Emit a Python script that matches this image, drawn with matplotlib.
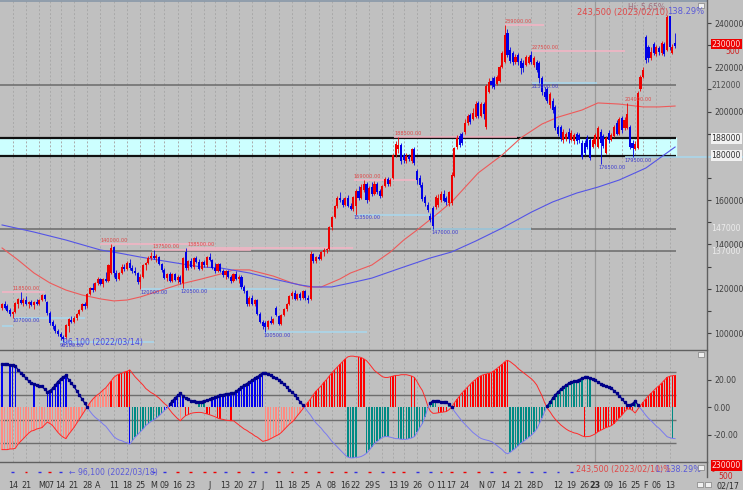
import matplotlib
matplotlib.use("Agg")
import matplotlib.pyplot as plt
import matplotlib.transforms as mtransforms
from matplotlib.patches import Rectangle
import numpy as np

# ---- daily candles, thousands of won (bar 4 = 2022/02/14, bar 250 = 2023/02/10) ----
opens = [
    111.5, 113.0, 112.0, 110.5, 108.5, 109.5, 113.0, 115.0, 113.5, 115.0,
    113.0, 114.0, 112.5, 114.0, 113.0, 115.0, 117.0, 114.0, 109.0, 105.0,
    103.0, 101.0, 99.5, 98.0, 98.0, 103.0, 106.0, 105.0, 107.0, 108.5,
    110.5, 113.0, 112.0, 117.5, 120.5, 119.5, 122.5, 124.5, 122.0, 124.5,
    123.5, 127.0, 139.0, 127.0, 124.5, 127.0, 130.0, 129.0, 131.5, 129.5,
    128.0, 127.0, 123.0, 125.5, 130.5, 131.5, 134.0, 135.0, 134.0, 134.5,
    131.0, 128.5, 125.0, 126.5, 123.5, 126.5, 124.0, 125.5, 122.5, 136.5,
    129.5, 132.5, 130.0, 134.0, 132.0, 129.0, 132.0, 130.5, 134.5, 133.0,
    129.5, 128.0, 131.0, 128.0, 126.0, 128.0, 125.5, 123.5, 126.5, 124.5,
    125.5, 121.0, 119.0, 113.0, 116.0, 113.0, 115.0, 108.5, 105.0, 104.5,
    102.5, 105.5, 104.5, 111.5, 107.5, 104.0, 108.0, 111.0, 113.0, 116.5,
    118.0, 115.5, 117.5, 116.0, 119.0, 116.0, 115.5, 135.5, 132.5, 134.5,
    133.5, 136.5, 137.5, 138.0, 148.0, 152.5, 157.5, 161.0, 160.0, 158.0,
    161.0, 157.5, 156.0, 157.5, 164.0, 161.0, 164.5, 167.5, 160.0, 166.0,
    163.0, 167.5, 164.0, 162.0, 166.5, 169.5, 167.5, 170.0, 180.5, 183.0,
    185.0, 180.5, 177.5, 180.0, 177.5, 183.0, 173.0, 170.0, 167.0, 161.5,
    158.0, 153.0, 156.5, 157.0, 158.0, 160.0, 163.0, 161.0, 158.5, 158.5,
    171.0, 184.0, 189.0, 190.0, 191.0, 195.0, 198.5, 196.5, 197.5, 204.0,
    198.0, 203.5, 193.0, 209.0, 214.0, 215.0, 212.5, 214.0, 220.0, 222.5,
    235.5, 228.0, 226.5, 222.5, 225.5, 223.0, 222.0, 221.0, 222.0, 225.5,
    221.0, 222.5, 222.0, 215.0, 209.0, 210.0, 203.0, 205.0, 202.0, 193.0,
    193.0, 187.0, 187.5, 191.0, 187.0, 186.5, 190.0, 189.5, 186.0, 186.0,
    188.0, 187.0, 184.0, 185.5, 184.0, 191.0, 189.0, 181.5, 190.5, 187.0,
    189.0, 195.0, 190.0, 197.0, 192.5, 192.5, 193.0, 186.0, 183.0, 183.5,
    210.0, 215.5, 233.5, 229.0, 224.0, 230.5, 226.0, 228.5, 226.5, 230.5,
    228.0, 243.0, 226.5, 231.0,
]
highs = [
    113.5, 114.5, 113.0, 111.5, 110.0, 114.0, 116.0, 118.5, 116.0, 116.5,
    114.5, 115.0, 114.5, 115.5, 115.5, 117.5, 117.5, 114.5, 110.0, 106.0,
    104.0, 102.0, 100.5, 99.0, 104.0, 107.0, 107.5, 107.5, 109.0, 111.0,
    113.5, 114.0, 118.0, 121.0, 122.5, 123.0, 125.5, 125.0, 125.0, 127.5,
    131.0, 140.0, 139.5, 128.5, 127.5, 131.0, 131.0, 132.5, 133.5, 130.5,
    130.0, 127.5, 126.5, 131.0, 132.0, 135.0, 136.5, 137.5, 135.5, 135.0,
    131.5, 129.5, 127.0, 127.5, 127.0, 127.0, 126.0, 126.0, 134.5, 138.5,
    133.0, 134.0, 134.5, 135.0, 133.5, 132.5, 133.0, 135.0, 136.0, 133.5,
    131.5, 131.5, 131.5, 129.0, 128.5, 128.5, 126.0, 127.0, 128.0, 126.0,
    126.0, 121.5, 119.5, 116.5, 117.0, 115.5, 115.5, 109.5, 106.0, 105.5,
    106.0, 107.5, 107.0, 112.0, 108.0, 108.5, 111.5, 113.5, 117.0, 119.0,
    119.5, 118.0, 118.5, 119.5, 119.5, 117.0, 137.0, 136.0, 135.0, 135.5,
    137.0, 138.5, 138.5, 148.5, 153.0, 158.0, 162.0, 163.5, 161.0, 161.5,
    162.5, 158.5, 162.0, 165.0, 166.5, 167.5, 169.0, 168.0, 166.5, 168.0,
    168.5, 168.0, 165.0, 167.0, 170.5, 170.5, 170.0, 181.0, 186.5, 188.5,
    186.0, 181.5, 181.5, 181.0, 183.5, 184.0, 174.0, 171.5, 168.0, 162.5,
    159.0, 154.0, 157.5, 162.5, 163.0, 164.0, 164.5, 162.0, 164.0, 172.5,
    184.0, 189.5, 190.5, 191.0, 196.5, 199.0, 199.5, 201.5, 205.0, 205.0,
    204.5, 204.5, 212.5, 215.0, 215.5, 216.0, 216.5, 221.0, 227.5, 239.0,
    237.5, 229.0, 227.5, 226.0, 226.5, 224.0, 223.5, 225.5, 225.5, 227.5,
    225.0, 223.5, 223.0, 216.0, 211.0, 211.0, 209.0, 206.0, 203.0, 194.0,
    194.0, 192.0, 191.0, 192.5, 191.5, 190.5, 191.0, 190.5, 187.0, 187.0,
    189.5, 188.0, 188.0, 190.5, 193.5, 192.0, 190.0, 189.0, 191.5, 190.5,
    194.0, 196.0, 197.5, 198.0, 197.5, 204.0, 194.0, 187.0, 186.5, 209.5,
    216.5, 220.0, 234.5, 230.0, 229.0, 231.5, 230.0, 229.5, 232.0, 231.5,
    243.5, 243.0, 230.5, 235.5,
]
lows = [
    110.5, 111.0, 109.5, 107.5, 107.0, 109.0, 111.5, 113.0, 112.0, 112.5,
    111.5, 112.0, 111.0, 112.5, 112.5, 114.5, 114.5, 108.0, 103.5, 102.0,
    100.0, 98.5, 97.0, 96.1, 97.5, 100.5, 104.5, 104.5, 106.0, 108.0,
    110.0, 111.0, 111.5, 117.0, 118.5, 119.0, 121.5, 121.5, 121.0, 123.0,
    123.0, 126.5, 125.5, 123.5, 124.0, 126.5, 128.0, 128.5, 128.5, 127.0,
    126.0, 122.0, 120.0, 125.0, 128.5, 131.0, 133.0, 133.5, 132.0, 130.5,
    127.5, 124.5, 123.5, 123.0, 123.0, 123.5, 122.5, 122.0, 120.5, 128.5,
    128.5, 129.5, 129.0, 131.5, 128.5, 128.5, 130.0, 130.0, 132.5, 129.0,
    127.0, 127.5, 127.5, 125.5, 124.5, 125.0, 122.5, 123.0, 124.0, 122.5,
    120.0, 118.0, 112.0, 112.0, 112.5, 112.0, 108.0, 104.5, 102.0, 100.5,
    102.0, 104.0, 104.0, 107.5, 103.5, 103.5, 107.5, 110.0, 112.5, 115.5,
    115.0, 115.0, 115.0, 115.5, 115.0, 113.5, 115.0, 131.5, 131.5, 133.0,
    133.0, 135.0, 136.0, 137.5, 146.5, 152.0, 156.5, 159.0, 157.0, 157.5,
    157.0, 155.5, 155.0, 153.5, 160.0, 160.5, 163.5, 158.5, 159.5, 162.0,
    162.5, 163.0, 161.0, 161.5, 166.0, 166.5, 166.5, 169.5, 179.5, 181.5,
    176.5, 177.0, 177.0, 177.5, 177.0, 176.0, 167.5, 166.0, 159.5, 157.5,
    154.5, 150.0, 147.0, 156.0, 157.0, 159.0, 159.0, 158.0, 157.5, 158.0,
    170.5, 183.0, 184.0, 185.0, 190.0, 194.0, 194.5, 196.0, 197.0, 197.0,
    197.5, 196.5, 192.0, 208.5, 210.5, 210.0, 212.0, 213.5, 219.5, 222.0,
    224.5, 222.0, 221.0, 221.5, 221.0, 217.0, 218.0, 220.5, 221.5, 221.5,
    220.0, 218.0, 213.0, 207.5, 205.5, 204.0, 201.5, 199.5, 191.5, 189.0,
    186.5, 186.0, 186.5, 186.0, 186.5, 185.5, 185.5, 186.0, 178.5, 180.5,
    183.0, 178.0, 183.5, 185.0, 183.5, 176.5, 183.5, 181.0, 186.0, 186.5,
    188.5, 189.5, 189.5, 190.5, 191.5, 192.0, 183.0, 179.5, 182.5, 183.0,
    209.5, 215.0, 222.0, 222.5, 223.5, 225.5, 225.0, 225.5, 225.5, 225.0,
    227.5, 228.0, 226.0, 228.5,
]
closes = [
    113.0, 111.5, 110.0, 108.5, 109.5, 113.5, 115.5, 113.5, 115.0, 113.0,
    114.0, 112.5, 114.0, 113.0, 115.0, 117.0, 115.5, 109.0, 104.5, 103.0,
    101.0, 99.5, 98.0, 97.5, 103.5, 106.5, 105.0, 107.0, 108.5, 110.5,
    113.0, 112.0, 117.5, 120.5, 119.5, 122.5, 124.5, 122.0, 124.5, 123.5,
    130.5, 138.5, 127.0, 124.5, 127.0, 130.0, 129.0, 131.5, 129.5, 128.0,
    127.0, 123.0, 125.5, 130.5, 131.5, 134.0, 135.0, 134.0, 135.0, 131.0,
    128.5, 125.0, 126.5, 123.5, 126.5, 124.0, 125.5, 123.0, 134.0, 129.5,
    132.5, 130.0, 134.0, 132.0, 129.0, 132.0, 130.5, 134.5, 133.0, 129.5,
    128.0, 131.0, 128.0, 126.0, 128.0, 125.5, 123.5, 126.5, 124.5, 125.5,
    121.0, 119.0, 113.0, 116.0, 113.0, 115.0, 108.5, 105.0, 103.0, 102.5,
    105.5, 104.5, 106.5, 108.0, 104.0, 108.0, 111.0, 113.0, 116.5, 118.0,
    115.5, 117.5, 116.0, 119.0, 116.0, 115.0, 135.5, 132.5, 134.5, 133.5,
    136.5, 137.5, 138.0, 148.0, 152.5, 157.5, 161.0, 160.0, 158.0, 161.0,
    157.5, 156.0, 161.5, 164.0, 161.0, 166.0, 167.5, 160.0, 165.5, 163.0,
    167.5, 163.5, 162.0, 166.5, 169.5, 167.5, 169.0, 180.5, 185.5, 185.0,
    177.5, 178.0, 180.0, 178.5, 183.0, 177.0, 169.0, 167.0, 160.5, 158.5,
    155.5, 151.0, 148.5, 161.5, 161.0, 163.0, 159.5, 159.0, 163.5, 171.5,
    183.5, 188.0, 185.0, 186.0, 195.0, 198.0, 195.5, 199.5, 203.5, 198.0,
    203.5, 199.0, 211.5, 213.5, 212.0, 211.0, 215.5, 220.0, 226.5, 234.5,
    225.5, 223.0, 222.5, 224.5, 222.5, 219.5, 219.5, 224.5, 224.5, 222.5,
    224.0, 219.0, 215.0, 209.0, 206.5, 205.0, 208.0, 200.5, 192.5, 190.0,
    188.0, 191.0, 190.0, 187.5, 190.5, 189.5, 186.5, 187.0, 179.5, 181.5,
    184.0, 179.0, 187.0, 189.5, 192.5, 186.0, 184.5, 188.0, 187.0, 189.5,
    193.0, 190.0, 196.5, 191.5, 196.0, 199.0, 184.0, 183.5, 185.5, 208.5,
    215.5, 219.0, 223.5, 224.0, 227.0, 226.5, 229.0, 227.0, 231.0, 226.0,
    242.5, 229.0, 229.0, 229.5,
]

# ---- moving averages (bar index, thousands of won) ----
ma_red_idx = [0, 6, 12, 18, 24, 30, 37, 42, 47, 52, 60, 67, 75, 82, 87, 93, 102, 109, 115, 120,
              127, 131, 139, 146, 151, 156, 164, 169, 179, 188, 195, 203, 209, 218, 224, 232,
              241, 247, 253]
ma_red_val = [138.4, 133.0, 127.1, 122.6, 119.4, 117.2, 115.4, 114.5, 114.9, 116.3, 119.4, 122.1,
              124.4, 126.6, 128.5, 128.5, 125.7, 122.6, 120.8, 120.8, 124.4, 127.1, 130.7, 136.6,
              142.0, 146.5, 154.2, 159.2, 172.3, 180.4, 188.1, 194.4, 197.5, 200.7, 203.9, 203.4,
              202.1, 202.1, 202.5]
ma_blue_idx = [0, 12, 24, 37, 44, 52, 63, 75, 82, 93, 102, 112, 117, 124, 131, 139, 150, 161,
               169, 178, 188, 199, 207, 216, 224, 232, 242, 253]
ma_blue_val = [148.8, 145.6, 142.0, 137.5, 136.1, 134.3, 132.1, 129.8, 129.4, 127.1, 124.4, 121.7,
               120.8, 120.8, 122.6, 124.8, 129.4, 133.9, 136.6, 141.5, 147.4, 154.6, 159.2, 163.2,
               165.9, 169.1, 174.5, 184.0]

# ---- oscillator (blue line; red line is its mirror) ----
osc_vals = [
    31, 31, 31, 30.5, 30.5, 30, 27, 25, 23, 21,
    19, 17.5, 17, 16, 15.5, 15, 13, 11, 12, 13.5,
    16, 18.5, 20.5, 22, 23, 20, 17.5, 15, 12, 9,
    6, 3, 0, -3, -5.5, -7.5, -9, -10.5, -12.5, -14,
    -16.5, -19, -21.5, -23, -24, -24.5, -25.5, -26, -27, -24.5,
    -22, -20, -18, -16, -13.5, -12, -10.5, -9.5, -8, -6.5,
    -4.5, -2.5, -1, 2, 4.5, 6.5, 8.5, 10, 8, 6.3,
    5.5, 4.6, 4.2, 4, 3.9, 4, 4.5, 5, 5.6, 6.3,
    7, 8, 8.7, 9, 9.5, 9.8, 10, 10, 11.5, 13,
    14.5, 16, 17, 18.4, 19.5, 21, 22, 23.5, 25, 24.5,
    24, 23, 22, 21, 20, 18.5, 16.5, 14.5, 12.5, 11,
    9, 6.3, 4, 1.5, -1, -3.5, -6, -9, -11.5, -13.5,
    -15.5, -18, -20, -22.5, -25, -27, -29, -31, -33, -35,
    -36.5, -37, -37, -36.6, -36.5, -36, -35, -33.7, -31.5, -29,
    -26.5, -25, -23.5, -22, -21.5, -21.5, -22, -22.5, -23, -23,
    -23.5, -23.5, -23.5, -23, -22.5, -21.5, -18.5, -15, -12, -7,
    -1, 3, 4.6, 4.5, 4.2, 3.9, 3.6, 3.3, 2, 0,
    -3, -5.5, -8, -10.5, -12.5, -14.5, -16.5, -18.5, -20, -21.5,
    -22.8, -23.5, -24, -24.5, -25.2, -26.5, -28, -29.5, -31, -33,
    -34, -33, -31.5, -30, -28, -26.5, -25, -23.5, -22, -20.5,
    -18.5, -16, -12, -8, -3, 1, 3.5, 6.5, 9, 11,
    13, 14.5, 16, 17.2, 18, 18.8, 19.2, 20, 21, 21.6,
    21.5, 21.3, 20.5, 19.5, 18, 17, 16, 15, 14.3, 13.6,
    12, 10, 8, 6, 3.5, 1.5, 1.5, 2.5, 4.4, 1.5,
    -1, -3.5, -6, -8.2, -10, -12, -14, -15.5, -17.5, -19.5,
    -21.6, -22.3, -22.8, -23,
]
# histogram colour runs (b blue, r red, s salmon, t teal, . none)
hist_top_runs = [("b", 1), (".", 2), ("b", 3), (".", 6), ("b", 1), (".", 4), ("b", 8), (".", 7),
                 ("s", 9), ("r", 1), ("s", 2), ("r", 5), (".", 14), ("b", 6), (".", 5), ("t", 3),
                 (".", 2), ("b", 20), (".", 15), ("r", 16), (".", 4), ("r", 3), (".", 9), ("r", 3),
                 (".", 5), ("r", 2), (".", 5), ("t", 3), (".", 4), ("t", 1), ("r", 22), (".", 15),
                 ("t", 13), (".", 1), ("t", 2), (".", 16), ("t", 1), ("r", 15)]
hist_bot_runs = [("s", 32), (".", 16), ("b", 1), ("t", 12), ("b", 2), (".", 4), ("s", 1), (".", 1),
                 ("r", 2), (".", 6), ("r", 2), (".", 2), ("r", 2), (".", 3), ("r", 1), (".", 12),
                 ("s", 15), (".", 16), ("t", 4), (".", 3), ("t", 9), (".", 3), ("t", 12), (".", 3),
                 ("r", 4), (".", 23), ("t", 15), (".", 13), ("r", 1), (".", 3), ("r", 15), (".", 14),
                 ("t", 1), (".", 1)]
osc_grid = [25.5, 8.7, -9.5, -26.2]

# ---- date axis ----
week_idx = [4, 9, 14, 18, 22, 27, 32, 37, 42, 47, 52, 57, 61, 66, 71, 76, 80, 84, 89, 94, 99,
            104, 109, 114, 119, 124, 129, 133, 138, 143, 147, 151, 156, 161, 165, 169, 174, 179,
            184, 189, 194, 199, 204, 209, 214, 219, 228, 233, 238, 241, 246, 251]
year_idx = 223
date_idx = [4, 9, 15, 18, 22, 27, 32, 36, 42, 47, 52, 57, 61, 66, 71, 78, 84, 89, 94, 98, 104,
            109, 114, 119, 124, 129, 133, 138, 141, 147, 151, 156, 161, 165, 169, 174, 180, 184,
            189, 194, 199, 202, 209, 214, 219, 223, 228, 233, 238, 242, 246, 251]
date_lbl = ["14", "21", "M", "07", "14", "21", "28", "A", "11", "18", "25", "M", "09", "16", "23",
            "J", "13", "20", "27", "J", "11", "18", "25", "A", "08", "16", "22", "29", "S", "13",
            "19", "26", "O", "11", "17", "24", "N", "07", "14", "21", "28", "D", "12", "19", "26",
            "23", "09", "16", "25", "F", "06", "13"]

# weekly marks in the bottom strip (r up week, b down week)
strip_idx = [4, 9, 14, 18, 22, 57, 61, 66, 71, 76, 80, 84, 89, 94, 99, 104, 109, 114, 119, 124,
             129, 133, 138, 143, 147, 151, 156, 161, 165, 169, 174, 179, 184, 189, 194, 199, 204,
             209, 214]
strip_col = "brbrbbbrrrrbrbbrrrrrrbrbrrbbrrrrbrbbbbb"

# ---- swing high / low marks ----
hi_vals = [118.5, 140.0, 137.5, 138.5, 169.0, 188.5, 239.0, 227.5, 204.0]
hi_text_idx = [4.1, 37, 56.5, 69.7, 132.3, 147.4, 188.9, 199.1, 234.1]
hi_line_from = [0, 37, 56.5, 69.7, 132.3, 147.4, 188.9, 199.1, None]
hi_line_to = [16, 79, 93.5, 132, 155.7, 193.4, 203.6, 234, None]
lo_vals = [107.0, 96.1, 120.0, 120.5, 100.5, 153.5, 147.0, 213.0, 176.5, 179.5]
lo_text_idx = [4.1, 21.8, 52, 67, 98.4, 132.3, 161.4, 199.1, 224.3, 234.1]
lo_line_from = [4.1, 21.8, 52, None, 98.4, 132.3, 161.4, 199.1, None, 234.1]
lo_line_to = [31, 57, 104, None, 137, 165, 199, 223.6, None, 279]
old_support = (103.2, 0, 4.1)

band_lo, band_hi = 180.0, 188.0
grey_levels = [212.0, 147.0, 137.0]
last_idx = 253.4

W, H = 743, 490
BG = "#c0c0c0"
RED, BLUE = "#ee0000", "#0000e6"
HIST_COL = {"b": "#0000f0", "r": "#ff0000", "s": "#ff8a80", "t": "#008a84"}
XL = (-0.774, 265.0)

fig = plt.figure(figsize=(W / 100, H / 100), dpi=100, facecolor=BG)


def px_axes(x0, y0, x1, y1):
    a = fig.add_axes([x0 / W, 1 - y1 / H, (x1 - x0) / W, (y1 - y0) / H])
    a.set_facecolor(BG)
    for s in a.spines.values():
        s.set_visible(False)
    a.set_xlim(*XL)
    return a


ax = px_axes(0, 0, 707, 349)
ax2 = px_axes(0, 349, 707, 462)
ax3 = px_axes(0, 462, 707, 477)

# ---------------- main panel ----------------
ax.set_ylim(92780, 250390)
idx = np.arange(len(closes))
o = np.array(opens) * 1000
h = np.array(highs) * 1000
l = np.array(lows) * 1000
c = np.array(closes) * 1000
col = np.where(c >= o, RED, BLUE)

for wi in week_idx:
    for a in (ax, ax2):
        a.axvline(wi, color="#a9a9a9", lw=0.7, ls=(0, (2, 2)), zorder=1)
for a in (ax, ax2):
    a.axvline(year_idx, color="#9a9a9a", lw=0.9, zorder=1)

ax.fill_between([XL[0], last_idx], band_lo * 1000, band_hi * 1000, color="#ccffff", zorder=0.5)
ax.hlines([band_lo * 1000, band_hi * 1000], XL[0], last_idx, color="#101010", lw=1.6, zorder=2)
ax.hlines([g * 1000 for g in grey_levels], XL[0], last_idx, color="#6a6a6a", lw=1.1, zorder=2)

# swing lines
for v, a0, a1 in zip(hi_vals, hi_line_from, hi_line_to):
    if a0 is not None:
        ax.hlines(v * 1000, a0, a1, color="#f6b4c4", lw=1.1, zorder=2.5)
for v, a0, a1 in zip(lo_vals, lo_line_from, lo_line_to):
    if a0 is not None:
        ax.hlines(v * 1000, a0, a1, color="#a8d8ee", lw=1.1, zorder=2.5, clip_on=False)
ax.hlines(old_support[0] * 1000, old_support[1], old_support[2], color="#a8d8ee", lw=1.1, zorder=2.5)

ax.plot(ma_red_idx, np.array(ma_red_val) * 1000, color="#ee5a5a", lw=0.8, zorder=3)
ax.plot(ma_blue_idx, np.array(ma_blue_val) * 1000, color="#5454e6", lw=0.8, zorder=3)

ax.vlines(idx, l, h, colors=col, lw=0.6, zorder=4)
body = np.maximum(np.abs(c - o), 350)
ax.bar(idx, body, bottom=np.minimum(o, c), width=0.78, color=col, lw=0, zorder=4.5)

for v, ti in zip(hi_vals, hi_text_idx):
    ax.text(ti, v * 1000 + 500, f"{v * 1000:.2f}", fontsize=3.6, color="#e04848",
            ha="left", va="bottom", zorder=6)
for v, ti in zip(lo_vals, lo_text_idx):
    ax.text(ti, v * 1000 - 400, f"{v * 1000:.2f}", fontsize=3.6, color="#3a3ad0",
            ha="left", va="top", zorder=6)

ax.text(22.8, 95600, "96,100 (2022/03/14)", fontsize=5.6, color="#4848e0",
        ha="left", va="center", zorder=7)

# right price scale
ax.yaxis.tick_right()
major = [100000, 120000, 140000, 160000, 200000, 220000, 240000]
ax.set_yticks(major)
ax.set_yticklabels([str(v) for v in major])
ax.set_yticks([110000, 130000, 150000, 170000, 190000, 210000, 230000], minor=True)
ax.tick_params(axis="y", which="both", direction="out", length=3, width=0.8, pad=2,
               labelsize=5.6, colors="#404040")
ax.tick_params(axis="x", which="both", bottom=False, labelbottom=False)
ytr = mtransforms.blended_transform_factory(ax.transAxes, ax.transData)
xr = 1 + 4.5 / 707
ax.text(xr, 212000, "212000", transform=ytr, fontsize=5.6, color="#505050", va="center")
for v in (188000, 180000):
    ax.text(xr, v, str(v), transform=ytr, fontsize=5.6, color="#303030", va="center",
            bbox=dict(boxstyle="square,pad=0.12", fc="#f2f2f2", ec="none"))
for v in (147000, 137000):
    ax.text(xr, v, str(v), transform=ytr, fontsize=5.6, color="#ececec", va="center")
ax.text(xr, 230500, "230000", transform=ytr, fontsize=5.6, color="#ffe0e0", va="center",
        bbox=dict(boxstyle="square,pad=0.12", fc="#ee0000", ec="none"))
ax.text(xr + 0.02, 227300, "500", transform=ytr, fontsize=5.6, color="#d02020", va="center")

# top headline
fig.text(577 / W, 1 - 13 / H, "243,500 (2023/02/10)", fontsize=6, color="#e04848",
         ha="left", va="center")
fig.text(628 / W, 1 - 8 / H, "Hi: 5.65%", fontsize=5.5, color="#a07080", ha="left", va="center")
fig.text(704 / W, 1 - 12 / H, "138.29%", fontsize=6, color="#5a5ad8", ha="right", va="center")

# ---------------- oscillator ----------------
ax2.set_ylim(-40, 42.2)
osc = np.array(osc_vals, dtype=float)
mag = np.abs(osc)


def expand(runs):
    return np.array([ch for ch, n in runs for _ in range(n)])


top_codes = expand(hist_top_runs)
bot_codes = expand(hist_bot_runs)
for code, hc in HIST_COL.items():
    mt = top_codes == code
    ax2.bar(idx[mt], mag[mt], width=0.55, color=hc, lw=0, zorder=3)
    mb = bot_codes == code
    ax2.bar(idx[mb], -mag[mb], width=0.55, color=hc, lw=0, zorder=3)

ax2.hlines(osc_grid, XL[0], last_idx, color="#6e6e6e", lw=1.0, zorder=2)
ax2.plot(idx, -osc, color="#ff2a2a", lw=0.7, zorder=4)
ax2.plot(idx, osc, color="#7a7af0", lw=0.7, zorder=4)
pos = np.where(osc >= 0, osc, np.nan)
ax2.plot(idx, pos, color="#000088", lw=0.9, marker="s", ms=1.5, zorder=5)

ax2.yaxis.tick_right()
ax2.set_yticks([20, 0, -20])
ax2.set_yticklabels(["20.00", "0.00", "-20.00"])
ax2.tick_params(axis="y", direction="out", length=3, width=0.8, pad=2, labelsize=5.6,
                colors="#404040")
ax2.tick_params(axis="x", bottom=False, labelbottom=False)

# ---------------- bottom strip + dates ----------------
ax3.set_ylim(0, 1)
ax3.set_yticks([])
ax3.set_xticks(date_idx)
ax3.set_xticklabels(date_lbl)
ax3.tick_params(axis="x", length=0, pad=3.2, labelsize=5.8, colors="#303030")
ax3.get_xticklabels()[date_lbl.index("23", 20)].set_fontweight("bold")
for si, sc in zip(strip_idx, strip_col):
    ax3.hlines(0.35, si - 0.55, si + 0.55, color=RED if sc == "r" else "#3030e0", lw=1.0)
ax3.text(25, 0.3, "\u2190 96,100 (2022/03/18)", fontsize=5.6, color="#5a5ad8", va="center")
ax3.text(215.7, 0.5, "243,500 (2023/02/10)%", fontsize=5.8, color="#e04848", va="center")
ax3.text(246, 0.5, "L: 138.29%", fontsize=5.8, color="#5a5ad8", va="center")
ax3.text(xr, 0.75, "230000", transform=ax3.transAxes, fontsize=5.6, color="#ffe0e0",
         va="center", bbox=dict(boxstyle="square,pad=0.12", fc="#ee0000", ec="none"))
fig.text(712 / W, 1 - 472 / H, "-", fontsize=5.6, color="#d02020", ha="left", va="center")
fig.text(718 / W, 1 - 476.5 / H, "500", fontsize=5.6, color="#d02020", ha="left", va="center")

# frame lines and small window buttons
fig.add_artist(plt.Line2D([0, 707 / W], [1 - 0.8 / H] * 2, color="#8898a8", lw=1.2))
fig.add_artist(plt.Line2D([0, 707 / W], [1 - 349.5 / H] * 2, color="#606060", lw=1.0))
fig.add_artist(plt.Line2D([0, 707 / W], [1 - 462 / H] * 2, color="#606060", lw=1.0))
fig.add_artist(plt.Line2D([707 / W] * 2, [1 - 477 / H, 1], color="#606060", lw=1.0))
for bx, by in [(698, 3), (698, 352), (698, 465), (697, 482), (705, 482)]:
    fig.add_artist(Rectangle((bx / W, 1 - (by + 5) / H), 6 / W, 5 / H, transform=fig.transFigure,
                             fc="#f0f0f0", ec="#808080", lw=0.5))
fig.text(728 / W, 1 - 486 / H, "02/17", fontsize=5.8, color="#303030", ha="center", va="center")

fig.savefig("out.png", dpi=100, facecolor=BG)
